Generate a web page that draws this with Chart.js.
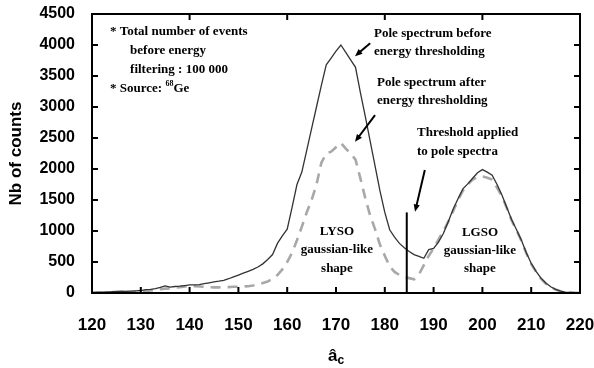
<!DOCTYPE html>
<html>
<head>
<meta charset="utf-8">
<script src="https://cdn.jsdelivr.net/npm/chart.js@4"></script>
<style>
body { margin: 0; background: #fff; }
</style>
</head>
<body>
<canvas id="spectrum" width="594" height="368"></canvas>
<script>
// ac values (x axis)
const acValues = [120,121,122,123,124,125,126,127,128,129,130,131,132,133,134,135,136,137,138,139,
	140,141,142,143,144,145,146,147,148,149,150,151,152,153,154,155,156,157,158,159,
	160,161,162,163,164,165,166,167,168,169,170,171,172,173,174,175,176,177,178,179,
	180,181,182,183,184,185,186,187,188,189,190,191,192,193,194,195,196,197,198,199,
	200,201,202,203,204,205,206,207,208,209,210,211,212,213,214,215,216,217,218,219,220];

// pole spectrum before energy thresholding (solid)
const countsBefore = [10,12,15,18,20,25,30,25,30,35,40,55,60,70,90,115,95,105,110,120,
	130,130,135,150,165,180,190,205,230,260,290,320,350,380,420,470,540,620,800,920,
	1030,1380,1750,1950,2300,2650,3000,3350,3680,3790,3900,4000,3880,3760,3640,3230,2850,2450,2050,1650,
	1300,1020,900,800,730,670,620,590,560,700,720,820,960,1150,1350,1520,1680,1760,1850,1940,
	1990,1950,1900,1750,1580,1380,1180,1020,850,650,480,350,240,160,100,60,30,15,10,5,5];

// pole spectrum after energy thresholding (dashed)
const countsAfter = [0,0,5,5,10,10,10,15,15,20,20,30,40,50,60,70,75,85,95,105,
	110,110,105,100,95,90,90,95,95,100,100,105,110,120,140,160,185,230,290,380,
	500,650,850,1070,1300,1500,1750,2100,2250,2280,2350,2420,2330,2250,2150,1850,1530,1250,1030,780,
	600,430,340,290,260,240,220,300,450,600,720,860,1000,1150,1320,1500,1650,1750,1830,1870,
	1880,1860,1830,1700,1560,1370,1170,1010,840,640,470,340,230,150,95,55,28,12,8,4,4];

// threshold applied to pole spectra
const thresholdAc = [184.5, 184.5];
const thresholdCounts = [0, 1300];

const xTicks = [120, 130, 140, 150, 160, 170, 180, 190, 200, 210, 220];
const yTicks = [0, 500, 1000, 1500, 2000, 2500, 3000, 3500, 4000, 4500];

function toPoints(xs, ys) {
	return xs.map(function(x, i) { return {x: x, y: ys[i]}; });
}

// frame, inward ticks, notes and arrows
const decorations = {
	id: 'decorations',
	afterDraw: function(chart) {
		const ctx = chart.ctx;
		const xs = chart.scales.x;
		const ys = chart.scales.y;
		const a = chart.chartArea;
		const P = function(v, c) { return [xs.getPixelForValue(v), ys.getPixelForValue(c)]; };

		ctx.save();
		ctx.strokeStyle = '#000';
		ctx.lineWidth = 2;
		ctx.strokeRect(a.left, a.top, a.right - a.left, a.bottom - a.top);

		ctx.beginPath();
		xTicks.forEach(function(v) {
			const px = xs.getPixelForValue(v);
			ctx.moveTo(px, a.bottom);
			ctx.lineTo(px, a.bottom - 6);
			if ((v - 120) % 20 === 0) {
				ctx.moveTo(px, a.top);
				ctx.lineTo(px, a.top + 6);
			}
		});
		yTicks.forEach(function(c) {
			const py = ys.getPixelForValue(c);
			ctx.moveTo(a.left, py);
			ctx.lineTo(a.left + 6, py);
			ctx.moveTo(a.right, py);
			ctx.lineTo(a.right - 6, py);
		});
		ctx.stroke();

		// notes
		ctx.fillStyle = '#000';
		ctx.textBaseline = 'middle';
		ctx.font = 'bold 13px "Liberation Serif", "Times New Roman", serif';
		const left = function(txt, v, c) { const p = P(v, c); ctx.textAlign = 'left'; ctx.fillText(txt, p[0], p[1]); };
		const mid = function(txt, v, c) { const p = P(v, c); ctx.textAlign = 'center'; ctx.fillText(txt, p[0], p[1]); };

		left('* Total number of events', 123.7, 4210);
		left('before energy', 127.8, 3903);
		left('filtering : 100 000', 127.8, 3597);
		left('* Source: ', 123.7, 3290);
		let p = P(123.7, 3290);
		let w = ctx.measureText('* Source: ').width;
		ctx.font = 'bold 8px "Liberation Serif", serif';
		ctx.fillText('68', p[0] + w, p[1] - 5);
		let w2 = ctx.measureText('68').width;
		ctx.font = 'bold 13px "Liberation Serif", "Times New Roman", serif';
		ctx.fillText('Ge', p[0] + w + w2, p[1]);

		left('Pole spectrum before', 177.8, 4190);
		left('energy thresholding', 177.8, 3900);
		left('Pole spectrum after', 178.4, 3400);
		left('energy thresholding', 178.4, 3100);
		left('Threshold applied', 186.6, 2580);
		left('to pole spectra', 186.6, 2275);

		mid('LYSO', 170.2, 985);
		mid('gaussian-like', 170.2, 695);
		mid('shape', 170.2, 400);
		mid('LGSO', 199.5, 980);
		mid('gaussian-like', 199.5, 680);
		mid('shape', 199.5, 385);

		// arrows
		const arrow = function(v0, c0, v1, c1) {
			const s = P(v0, c0), e = P(v1, c1);
			const ang = Math.atan2(e[1] - s[1], e[0] - s[0]);
			ctx.lineWidth = 2;
			ctx.beginPath();
			ctx.moveTo(s[0], s[1]);
			ctx.lineTo(e[0] - 4 * Math.cos(ang), e[1] - 4 * Math.sin(ang));
			ctx.stroke();
			ctx.beginPath();
			ctx.moveTo(e[0], e[1]);
			ctx.lineTo(e[0] - 8 * Math.cos(ang - 0.4), e[1] - 8 * Math.sin(ang - 0.4));
			ctx.lineTo(e[0] - 8 * Math.cos(ang + 0.4), e[1] - 8 * Math.sin(ang + 0.4));
			ctx.closePath();
			ctx.fill();
		};
		arrow(177.0, 4030, 173.9, 3820);
		arrow(178.0, 2870, 173.9, 2440);
		arrow(188.2, 1985, 186.2, 1310);

		// x axis title with subscript
		ctx.textAlign = 'left';
		ctx.font = 'bold 17px "Liberation Sans", Arial, sans-serif';
		const tx = (a.left + a.right) / 2 - 8;
		ctx.fillText('\u00e2', tx, 356);
		const wa = ctx.measureText('\u00e2').width;
		ctx.font = 'bold 12px "Liberation Sans", Arial, sans-serif';
		ctx.fillText('c', tx + wa, 361);
		ctx.restore();
	}
};

new Chart(document.getElementById('spectrum'), {
	type: 'line',
	data: {
		datasets: [{
			data: toPoints(thresholdAc, thresholdCounts),
			borderColor: '#000',
			borderWidth: 2,
			pointRadius: 0
		}, {
			data: toPoints(acValues, countsBefore),
			borderColor: '#333',
			borderWidth: 1.3,
			pointRadius: 0
		}, {
			data: toPoints(acValues, countsAfter),
			borderColor: '#a8a8a8',
			borderWidth: 2.6,
			borderDash: [10, 7],
			pointRadius: 0
		}]
	},
	options: {
		responsive: false,
		animation: false,
		layout: { padding: { top: 14, right: 0 } },
		plugins: { legend: { display: false }, tooltip: { enabled: false } },
		scales: {
			x: {
				type: 'linear',
				min: 120,
				max: 220,
				afterFit: function(s) { s.height = 75; s.paddingLeft = 0; s.paddingRight = 14; },
				afterBuildTicks: function(s) { s.ticks = xTicks.map(function(v) { return {value: v}; }); },
				grid: { display: false, drawTicks: false },
				border: { display: false },
				ticks: { color: '#000', padding: 22, font: { family: '"Liberation Sans", Arial, sans-serif', size: 17, weight: 'bold' } }
			},
			y: {
				min: 0,
				max: 4500,
				afterFit: function(s) { s.width = 92; s.paddingTop = 14; s.paddingBottom = 0; },
				afterBuildTicks: function(s) { s.ticks = yTicks.map(function(v) { return {value: v}; }); },
				grid: { display: false, drawTicks: false },
				border: { display: false },
				ticks: {
					color: '#000',
					padding: 17,
					callback: function(v) { return String(v); },
					font: { family: '"Liberation Sans", Arial, sans-serif', size: 16, weight: 'bold' }
				},
				title: {
					display: true,
					text: 'Nb of counts',
					color: '#000',
					padding: { top: 6, bottom: 0 },
					font: { family: '"Liberation Sans", Arial, sans-serif', size: 17, weight: 'bold' }
				}
			}
		}
	},
	plugins: [decorations]
});
</script>
</body>
</html>
